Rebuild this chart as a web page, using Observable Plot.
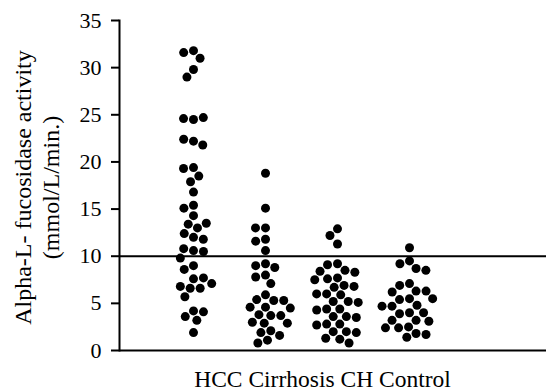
<!DOCTYPE html>
<html><head><meta charset="utf-8">
<script src="https://cdn.jsdelivr.net/npm/d3@7"></script>
<script src="https://cdn.jsdelivr.net/npm/@observablehq/plot@0.6"></script>
<style>
html,body{margin:0;padding:0;background:#fff}
#chart{position:relative;width:546px;height:390px;background:#fff}
#chart svg{position:absolute;left:0;top:0}
#chart svg text{font-family:'Liberation Serif','Times New Roman',serif !important;}
#chart svg g[aria-label="y-axis tick label"]{font-size:22px;}
</style>
</head><body><div id="chart"></div>
<script>
const groups = ["HCC", "Cirrhosis", "CH", "Control"];
const hcc = [31.8, 31.6, 31.0, 29.8, 29.0, 24.5, 24.6, 24.7, 22.2, 22.4, 21.8, 19.4, 19.3, 18.5, 17.9,
  16.8, 15.4, 15.1, 14.3, 13.4, 13.0, 13.5, 12.0, 12.4, 11.8, 10.6, 10.8, 10.5, 9.8, 9.0, 8.6,
  7.6, 7.7, 6.6, 6.8, 7.1, 6.6, 5.7, 4.2, 3.6, 3.2, 4.1, 1.9];
const cirrhosis = [18.8, 15.1, 13.0, 13.0, 11.8, 11.6, 10.6, 9.2, 9.0, 8.8, 8.0, 7.8, 7.1,
  5.9, 5.4, 5.3, 5.3, 4.6, 4.6, 4.5, 3.8, 3.7, 3.7, 3.0, 2.9, 2.9, 2.1, 1.9, 1.6, 1.1, 0.8];
const ch = [12.9, 12.2, 11.3, 9.2, 9.1, 8.5, 8.4, 8.3, 7.7, 7.6, 7.5, 6.9, 6.8, 6.7, 6.0, 6.0, 5.9,
  5.2, 5.2, 5.1, 4.4, 4.4, 4.3, 3.6, 3.6, 3.5, 2.8, 2.8, 2.7, 2.0, 2.0, 1.9, 1.3, 1.2, 0.8];
const control = [10.9, 9.5, 9.2, 8.7, 8.5, 7.1, 6.9, 6.3, 6.3, 6.2, 5.5, 5.5, 5.4, 4.8, 4.7, 4.7,
  4.0, 4.0, 3.9, 3.2, 3.2, 3.1, 2.5, 2.4, 2.4, 1.8, 1.7, 1.4];
const yTicks = [0, 5, 10, 15, 20, 25, 30, 35];
const yDomain = [0, 35];
const cutoff = [10];
const xLabel = "HCC Cirrhosis CH Control";
const yLabel1 = "Alpha-L- fucosidase activity";
const yLabel2 = "(mmol/L/min.)";

const series = [hcc, cirrhosis, ch, control];
const rows = groups.flatMap((g, i) => series[i].map(v => ({group: g, value: v})));

// shared layout
const W = 546, H = 390, mL = 119, mR = 0, mT = 20, mB = 40;
const frameCenter = (mL + W - mR) / 2;
const base = {width: W, height: H, marginLeft: mL, marginRight: mR, marginTop: mT, marginBottom: mB};

// bottom layer: dot columns, one facet per group, dodged around each facet's centre
const dots = Plot.plot({
  ...base,
  style: {background: "transparent"},
  facet: {data: rows, x: "group"},
  fx: {domain: groups, paddingInner: 0, paddingOuter: 0.925, align: 0.27, axis: null, label: null},
  y: {domain: yDomain, axis: null},
  marks: [
    Plot.dot(rows, Plot.dodgeX("middle", {y: "value", r: 4.5, padding: -2.5, fill: "#000", stroke: null}))
  ]
});

// middle layer: axis titles
const titles = Plot.plot({
  ...base,
  style: {color: "#000", background: "transparent"},
  marks: [
    Plot.text([xLabel], {frameAnchor: "bottom", textAnchor: "middle", lineAnchor: "bottom", dy: 36, dx: 322 - frameCenter, fontSize: 23.5, fill: "#000"}),
    Plot.text([yLabel1], {frameAnchor: "left", textAnchor: "middle", rotate: -90, lineAnchor: "bottom", dx: 30.5 - mL, dy: 2, fontSize: 24, fill: "#000"}),
    Plot.text([yLabel2], {frameAnchor: "left", textAnchor: "middle", rotate: -90, lineAnchor: "bottom", dx: 58.5 - mL, dy: 2, fontSize: 24, fill: "#000"})
  ]
});

// top layer: axes and reference line
const axes = Plot.plot({
  ...base,
  style: {fontSize: "22px", color: "#000", background: "transparent"},
  y: {domain: yDomain, axis: null},
  marks: [
    Plot.ruleY(cutoff, {stroke: "#000", strokeWidth: 2}),
    Plot.ruleY([yDomain[0]], {stroke: "#000", strokeWidth: 2}),
    Plot.frame({anchor: "left", stroke: "#000", strokeWidth: 2}),
    Plot.axisY(yTicks, {anchor: "left", tickSize: 8, tickPadding: 10, strokeWidth: 2, label: null})
  ]
});

document.getElementById("chart").append(dots, titles, axes);
</script>
</body></html>
